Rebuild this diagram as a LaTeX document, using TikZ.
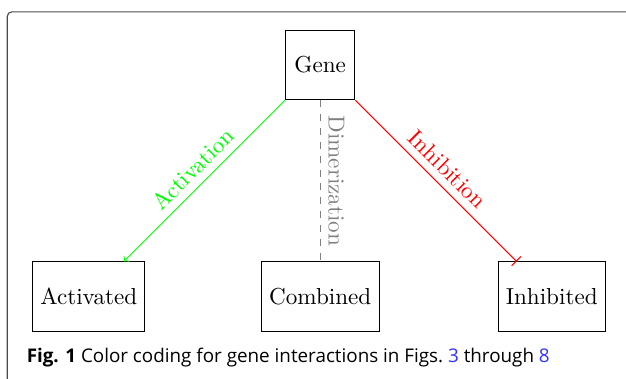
\documentclass[tikz,border=0pt]{standalone}
\usepackage{fontspec}
\usepackage{tikz}
\usetikzlibrary{arrows}
\newfontfamily\capfont{Open Sans}
\definecolor{capblue}{rgb}{0.2,0.2,1}

\begin{document}
\begin{tikzpicture}
	\tikzset{gbox/.style={draw,minimum size=3em}}
	\useasboundingbox (-4.87,-4.77) rectangle (4.65,0.99);

	%% page frame
	\draw[black!70,line width=0.5pt,rounded corners=2pt]
		(-4.76,-4.9) -- (-4.76,0.81) -- (4.8,0.81);

	\node[gbox] (gene) at (0,0) {Gene};
	\node[gbox] (act) at (-3.52,-3.52) {Activated};
	\node[gbox] (comb) at (0,-3.52) {Combined};
	\node[gbox] (inh) at (3.52,-3.52) {Inhibited};

	\path
		(gene) edge[->,green] node[above,sloped] {Activation} (act)
		(gene) edge[dashed,gray] node[above,sloped] {Dimerization} (comb)
		(gene) edge[-|,red] node[above,sloped] {Inhibition} (inh);

	%% caption
	\node[anchor=base west,inner sep=0pt] (cap) at (-4.47,-4.52)
		{\capfont\fontsize{8.15}{10}\selectfont\textbf{Fig. 1} Color coding for gene interactions in Figs.~\textcolor{capblue}{3} through \textcolor{capblue}{8}};
\end{tikzpicture}
\end{document}
